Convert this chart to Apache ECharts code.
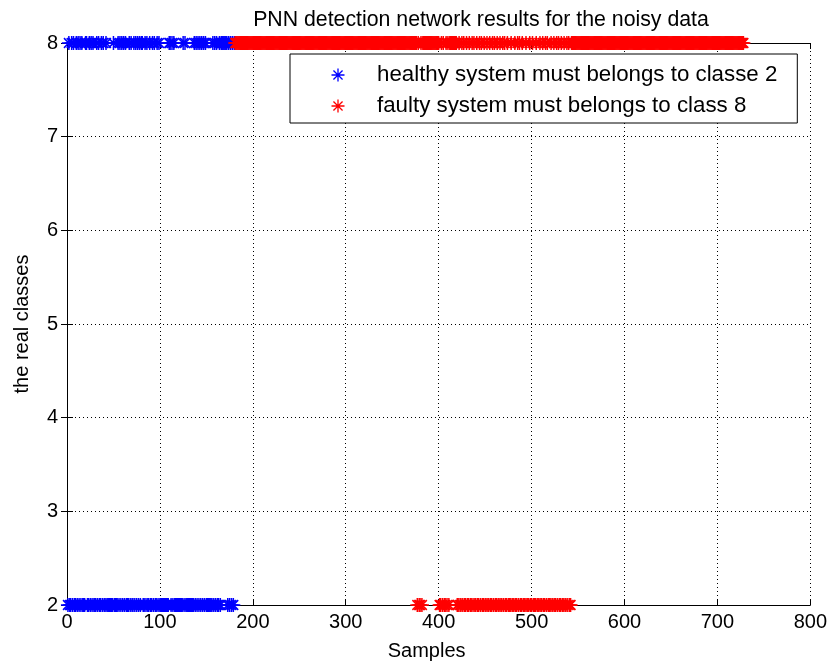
<!DOCTYPE html>
<html>
<head>
<meta charset="utf-8">
<script src="https://cdn.jsdelivr.net/npm/echarts@6/dist/echarts.min.js"></script>
<style>
  html, body { margin: 0; padding: 0; background: #fff; }
  #chart { width: 830px; height: 666px; }
</style>
</head>
<body>
<div id="chart"></div>
<script>
// Predicted class per sample, written in blocks of 10 consecutive samples.
// Healthy records: samples 1..180
const healthyFirstSample = 1;
const healthyClasses = [
  "2822828228", "2828282228", "8228282822",
  "2828228282", "2822222228", "2222828282",
  "8282228282", "2828282828", "8228282282",
  "2828228282", "2222222228", "8282822222",
  "2222828222", "2222228282", "8282828282",
  "2222228282", "8228288888", "8828282828"
];

// Faulty records: samples 181..728
const faultyFirstSample = 181;
const faultyClasses = [
  "8888888888", "8888888888", "8888888888", "8888888888", "8888888888",
  "8888888888", "8888888888", "8888888888", "8888888888", "8888888888",
  "8888888888", "8888888888", "8888888888", "8888888888", "8888888888",
  "8888888888", "8888888888", "8888888888", "8888888888", "8888882822",
  "8288888888", "8888888888", "2282822828", "2888888882", "2822828228",
  "2282282822", "8228282282", "2822822828", "2282282282", "8228222822",
  "2822828228", "2228222822", "8222822282", "2822828222", "8228228282",
  "2822822828", "2288888888", "8888888888", "8888888888", "8888888888",
  "8888888888", "8888888888", "8888888888", "8888888888", "8888888888",
  "8888888888", "8888888888", "8888888888", "8888888888", "8888888888",
  "8888888888", "8888888888", "8888888888", "8888888888", "88888888"
];

const seriesNames = [
  "healthy system must belongs to classe 2",
  "faulty system must belongs to class 8"
];
const xTicks = { min: 0, max: 800, step: 100 };
const yTicks = { min: 2, max: 8, step: 1 };

function toPoints(blocks, first) {
  const flat = blocks.join("");
  const pts = [];
  for (let i = 0; i < flat.length; i++) {
    pts.push([first + i, Number(flat[i])]);
  }
  return pts;
}

// eight-armed asterisk marker
const asterisk = "path://M0,5L10,5M5,0L5,10M1.5,1.5L8.5,8.5M8.5,1.5L1.5,8.5";
const FONT = "Liberation Sans, Arial, sans-serif";

const chart = echarts.init(document.getElementById("chart"), null, { renderer: "canvas" });

function markerSeries(name, data, color) {
  return {
    name: name,
    type: "scatter",
    data: data,
    symbol: asterisk,
    symbolSize: 14,
    clip: false,
    silent: true,
    itemStyle: { color: "none", borderColor: color, borderWidth: 1.5, opacity: 1 },
    emphasis: { disabled: true }
  };
}

const gridLine = { show: true, lineStyle: { color: "#000", type: [1, 3], width: 1 } };
const axisLine = { show: true, lineStyle: { color: "#000", width: 1 } };

chart.setOption({
  animation: false,
  backgroundColor: "#fff",
  title: {
    text: "PNN detection network results for the noisy data",
    left: 476,
    top: 5,
    textAlign: "center",
    textStyle: { fontFamily: FONT, fontSize: 21.3, fontWeight: "normal", color: "#000" }
  },
  grid: { left: 67, right: 19, top: 43, bottom: 61, containLabel: false },
  legend: {
    orient: "vertical",
    left: 290,
    top: 54,
    padding: [10, 20, 6, 39],
    itemGap: 9,
    itemWidth: 68,
    itemHeight: 13,
    backgroundColor: "#fff",
    borderColor: "#000",
    borderWidth: 1,
    borderRadius: 0,
    selectedMode: false,
    textStyle: { fontFamily: FONT, fontSize: 22.3, color: "#000", lineHeight: 21 },
    data: [
      { name: seriesNames[0], icon: asterisk, itemStyle: { color: "none", borderColor: "#0000ff", borderWidth: 1.3 } },
      { name: seriesNames[1], icon: asterisk, itemStyle: { color: "none", borderColor: "#ff0000", borderWidth: 1.3 } }
    ]
  },
  xAxis: [
    {
      type: "value", min: xTicks.min, max: xTicks.max, interval: xTicks.step,
      name: "Samples", nameLocation: "middle", nameGap: 36,
      nameTextStyle: { fontFamily: FONT, fontSize: 20, color: "#000", padding: [0, 24, 0, 0] },
      axisLine: axisLine,
      axisTick: { show: true, inside: true, length: 6, lineStyle: { color: "#000" } },
      axisLabel: { fontFamily: FONT, fontSize: 20, color: "#000", margin: 7 },
      splitLine: gridLine
    },
    {
      type: "value", position: "top", min: xTicks.min, max: xTicks.max, interval: xTicks.step,
      axisLine: axisLine,
      axisTick: { show: true, inside: true, length: 6, lineStyle: { color: "#000" } },
      axisLabel: { show: false },
      splitLine: { show: false }
    }
  ],
  yAxis: [
    {
      type: "value", min: yTicks.min, max: yTicks.max, interval: yTicks.step,
      name: "the real classes", nameLocation: "middle", nameGap: 35, nameRotate: 90,
      nameTextStyle: { fontFamily: FONT, fontSize: 20, color: "#000" },
      axisLine: axisLine,
      axisTick: { show: true, inside: true, length: 6, lineStyle: { color: "#000" } },
      axisLabel: { fontFamily: FONT, fontSize: 20, color: "#000", margin: 9 },
      splitLine: gridLine
    },
    {
      type: "value", position: "right", min: yTicks.min, max: yTicks.max, interval: yTicks.step,
      axisLine: axisLine,
      axisTick: { show: true, inside: true, length: 6, lineStyle: { color: "#000" } },
      axisLabel: { show: false },
      splitLine: { show: false }
    }
  ],
  series: [
    markerSeries(seriesNames[0], toPoints(healthyClasses, healthyFirstSample), "#0000ff"),
    markerSeries(seriesNames[1], toPoints(faultyClasses, faultyFirstSample), "#ff0000")
  ]
});
</script>
</body>
</html>
